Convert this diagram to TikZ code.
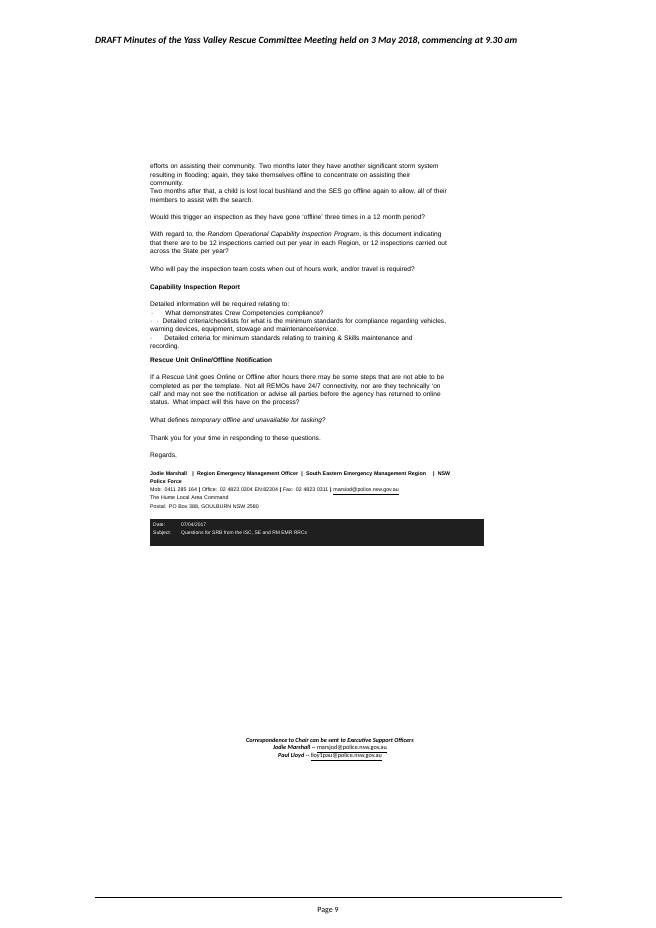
\documentclass[tikz,border=0pt]{standalone}
\usepackage{fontspec}
\setmainfont{Liberation Sans}
\newfontfamily\calfont{Carlito}
\begin{document}
\begin{tikzpicture}[x=1bp,y=-1bp]
\useasboundingbox (0,0) rectangle (656,928);
\tikzset{para/.style={anchor=north west,inner sep=0,text width=400bp,align=left,font=\fontsize{6.6}{8.3}\selectfont},
 foot/.style={inner sep=0,font=\calfont\fontsize{6.2}{8}\selectfont\bfseries\itshape}}
\node[inner sep=0,anchor=west,font=\calfont\fontsize{9.6}{11}\selectfont\bfseries\itshape] (hdr) at (95,41) {DRAFT Minutes of the Yass Valley Rescue Committee Meeting held on 3 May 2018, commencing at 9.30 am};
\node[para] (p1) at (150,164) {efforts on assisting their community. Two months later they have another significant storm system\\resulting in flooding; again, they take themselves offline to concentrate on assisting their\\community.\\Two months after that, a child is lost local bushland and the SES go offline again to allow, all of their\\members to assist with the search.};
\node[para] (p2) at (150,215) {Would this trigger an inspection as they have gone `offline' three times in a 12 month period?};
\node[para] (p3) at (150,232) {With regard to, the \textit{Random Operational Capability Inspection Program}, is this document indicating\\that there are to be 12 inspections carried out per year in each Region, or 12 inspections carried out\\across the State per year?};
\node[para] (p4) at (150,267) {Who will pay the inspection team costs when out of hours work, and/or travel is required?};
\node[para] (p5) at (150,285) {\textbf{Capability Inspection Report}};
\node[para] (p6) at (150,302) {Detailed information will be required relating to:\\
\hspace*{1bp}·\hspace{12bp}What demonstrates Crew Competencies compliance?\\
·\hspace{4bp}·\hspace{4bp}Detailed criteria/checklists for what is the minimum standards for compliance regarding vehicles,\\warning devices, equipment, stowage and maintenance/service.\\
·\hspace{12bp}Detailed criteria for minimum standards relating to training \& Skills maintenance and\\recording.};
\node[para] (p7) at (150,358) {\textbf{Rescue Unit Online/Offline Notification}};
\node[para] (p8) at (150,375) {If a Rescue Unit goes Online or Offline after hours there may be some steps that are not able to be\\completed as per the template. Not all REMOs have 24/7 connectivity, nor are they technically `on\\call' and may not see the notification or advise all parties before the agency has returned to online\\status. What impact will this have on the process?};
\node[para] (p9) at (150,418) {What defines \textit{temporary offline and unavailable for tasking?}};
\node[para] (p10) at (150,436) {Thank you for your time in responding to these questions.};
\node[para] (p11) at (150,453) {Regards,};
\node[para,font=\fontsize{5.3}{8.3}\selectfont] (sig) at (150,471) {\textbf{Jodie Marshall\quad| \;Region Emergency Management Officer \;| \;South Eastern Emergency Management Region \quad| \;NSW}\\\textbf{Police Force}\\
Mob: 0411 285 164 \textbf{|} Office: 02 4823 0304 EN:82304 \textbf{|} Fax: 02 4823 0311 \textbf{|} \underline{marsiod@police.nsw.gov.au}\\
The Hume Local Area Command\\
Postal: PO Box 388, GOULBURN NSW 2580};
\fill[black!88] (150,519) rectangle (484,546);
\node[anchor=north west,inner sep=0,text=white,font=\fontsize{5}{8}\selectfont,align=left] (dt) at (153,523) {Date:\\Subject:};
\node[anchor=north west,inner sep=0,text=white,font=\fontsize{5}{8}\selectfont,align=left] (dv) at (181,523) {07/04/2017\\Questions for SRB from the ISC, SE and RM EMR RRCs};
\node[foot] (f1) at (330,741) {Correspondence to Chair can be sent to Executive Support Officers};
\node[foot] (f2) at (330,749) {Jodie Marshall -- {\mdseries\upshape\underline{marsjod@police.nsw.gov.au}}};
\node[foot] (f3) at (330,757) {Paul Lloyd -- {\mdseries\upshape\underline{lloy1pau@police.nsw.gov.au}}};
\draw[line width=0.5bp] (95,897) -- (562,897);
\node[inner sep=0,font=\calfont\fontsize{8}{9}\selectfont] (pg) at (328,911) {Page 9};
\end{tikzpicture}
\end{document}
